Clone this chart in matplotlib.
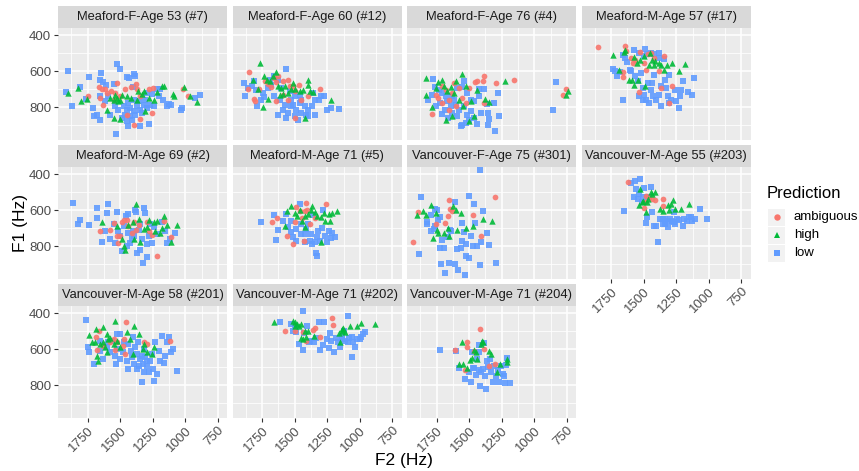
import matplotlib
matplotlib.use("Agg")
import matplotlib.pyplot as plt
from matplotlib.patches import Rectangle

plt.rcParams['font.family'] = ['Liberation Sans', 'DejaVu Sans']

# (F2, F1) pairs in Hz
p01_ambiguous = [(1745, 739), (1660, 689), (1655, 748), (1642, 700), (1616, 696), (1603, 720), (1570, 711),
                 (1539, 720), (1521, 665), (1551, 757), (1500, 739), (1461, 700), (1420, 689), (1379, 672),
                 (1368, 696), (1345, 739), (1281, 696), (1248, 692), (1255, 832), (1345, 865), (1392, 898),
                 (1449, 841), (1016, 696), (980, 739), (1629, 785)]
p01_high = [(1900, 720), (1827, 692), (1804, 767), (1757, 755), (1601, 813), (1549, 859), (1500, 863),
            (1577, 748), (1551, 757), (1526, 748), (1500, 757), (1539, 730), (1487, 730), (1449, 739),
            (1413, 748), (1374, 757), (1320, 707), (1281, 750), (1242, 757), (1216, 716), (1178, 680),
            (1165, 680), (1093, 726), (1088, 739), (1010, 687), (964, 739), (907, 772), (1361, 707),
            (1332, 726), (1513, 767), (1307, 822)]
p01_low = [(1897, 596), (1915, 713), (1866, 791), (1809, 689), (1737, 633), (1763, 752), (1706, 804),
           (1680, 841), (1698, 850), (1655, 869), (1655, 650), (1647, 609), (1629, 661), (1608, 674),
           (1655, 737), (1616, 767), (1590, 737), (1577, 841), (1551, 669), (1521, 557), (1505, 585),
           (1531, 948), (1436, 906), (1449, 631), (1431, 637), (1395, 613), (1387, 628), (1402, 687),
           (1345, 906), (1281, 891), (1294, 720), (1255, 729), (1216, 700), (1196, 696), (1203, 739),
           (1170, 761), (1139, 791), (1113, 785), (1036, 813), (1023, 804), (929, 748), (889, 730),
           (1126, 780), (1474, 794), (1449, 813), (1423, 804), (1397, 822), (1371, 794), (1345, 813),
           (1320, 785), (1294, 804), (1461, 841), (1423, 850), (1384, 841), (1410, 869), (1449, 878),
           (1487, 859), (1358, 767), (1332, 832), (1513, 813), (1539, 794), (1268, 785), (1242, 794),
           (1307, 757), (1397, 757), (1436, 776)]

p02_ambiguous = [(1853, 604), (1856, 698), (1814, 752), (1804, 767), (1771, 698), (1727, 652), (1706, 670),
                 (1680, 687), (1660, 635), (1642, 659), (1629, 628), (1590, 656), (1552, 650), (1539, 683),
                 (1513, 683), (1495, 711), (1469, 674), (1397, 739), (1307, 700), (1642, 767), (1552, 757),
                 (1449, 757), (1590, 730), (1495, 859)]
p02_high = [(1763, 554), (1822, 646), (1784, 698), (1737, 624), (1709, 646), (1693, 656), (1667, 628),
            (1642, 604), (1629, 683), (1603, 693), (1590, 726), (1572, 683), (1552, 720), (1531, 698),
            (1513, 665), (1495, 698), (1461, 711), (1436, 706), (1397, 646), (1397, 674), (1384, 711),
            (1358, 716), (1222, 761), (1745, 798), (1701, 752), (1423, 859), (1616, 730)]
p02_low = [(1892, 665), (1856, 693), (1881, 735), (1830, 680), (1814, 656), (1796, 706), (1789, 791),
           (1758, 757), (1745, 720), (1732, 743), (1706, 693), (1693, 646), (1680, 674), (1655, 628),
           (1629, 646), (1564, 587), (1655, 739), (1616, 757), (1624, 841), (1590, 813), (1572, 785),
           (1552, 832), (1526, 794), (1500, 850), (1487, 813), (1461, 776), (1449, 832), (1423, 794),
           (1410, 841), (1397, 813), (1366, 794), (1345, 757), (1314, 757), (1294, 739), (1273, 735),
           (1255, 813), (1222, 804), (1160, 807), (1449, 757), (1526, 757), (1495, 739), (1564, 859),
           (1474, 869), (1397, 850), (1345, 841), (1539, 711), (1461, 730), (1513, 785), (1358, 720),
           (1603, 693)]

p03_ambiguous = [(1784, 835), (1758, 730), (1737, 748), (1706, 683), (1680, 706), (1655, 757), (1629, 720),
                 (1616, 665), (1577, 693), (1552, 748), (1526, 776), (1500, 693), (1454, 657), (1436, 652),
                 (1392, 656), (1384, 628), (1384, 776), (1294, 665), (1157, 650), (778, 730), (758, 698),
                 (1655, 813), (1603, 794), (1706, 776)]
p03_high = [(1830, 637), (1830, 733), (1784, 798), (1753, 693), (1737, 661), (1709, 646), (1693, 683),
            (1680, 872), (1667, 711), (1642, 687), (1629, 850), (1616, 720), (1598, 656), (1557, 615),
            (1546, 794), (1526, 683), (1500, 878), (1487, 767), (1461, 850), (1443, 706), (1376, 754),
            (1350, 772), (1222, 656), (740, 711), (753, 730), (1577, 757)]
p03_low = [(1776, 643), (1814, 757), (1784, 730), (1763, 687), (1753, 794), (1722, 776), (1709, 835),
           (1683, 813), (1660, 859), (1629, 832), (1616, 757), (1603, 785), (1564, 906), (1552, 896),
           (1526, 887), (1500, 869), (1487, 822), (1461, 859), (1436, 891), (1539, 656), (1552, 687),
           (1513, 720), (1487, 757), (1461, 767), (1423, 739), (1428, 698), (1384, 700), (1366, 780),
           (1358, 832), (1345, 865), (1358, 896), (1307, 776), (1281, 720), (1273, 850), (1299, 933),
           (835, 661), (856, 817), (1732, 702), (1680, 739), (1642, 794), (1590, 850), (1577, 813),
           (1539, 794), (1513, 841), (1629, 739), (1667, 767), (1706, 720), (1410, 832), (1590, 693)]

p04_ambiguous = [(1848, 465), (1655, 606), (1655, 632), (1642, 461), (1634, 489), (1598, 526), (1582, 554),
                 (1564, 539), (1526, 495), (1500, 554), (1482, 591), (1443, 498), (1423, 526), (1384, 600),
                 (1366, 693), (1345, 513), (1281, 683), (1539, 717), (1307, 776), (1469, 506)]
p04_high = [(1737, 507), (1693, 591), (1650, 494), (1640, 480), (1609, 650), (1590, 650), (1572, 674),
            (1546, 650), (1577, 519), (1552, 554), (1526, 537), (1500, 515), (1487, 680), (1449, 500),
            (1436, 539), (1423, 563), (1410, 544), (1384, 554), (1366, 563), (1345, 594), (1320, 563),
            (1281, 554), (1230, 600), (1180, 559), (1461, 563)]
p04_low = [(1737, 587), (1719, 600), (1701, 628), (1680, 606), (1655, 507), (1642, 526), (1629, 550),
           (1603, 591), (1577, 480), (1539, 498), (1487, 474), (1500, 517), (1474, 506), (1443, 498),
           (1417, 506), (1386, 500), (1379, 526), (1345, 532), (1660, 757), (1595, 600), (1570, 628),
           (1546, 656), (1521, 609), (1508, 693), (1495, 730), (1482, 757), (1469, 665), (1443, 702),
           (1430, 739), (1417, 619), (1405, 757), (1379, 730), (1366, 683), (1340, 646), (1327, 693),
           (1314, 739), (1302, 619), (1289, 757), (1263, 702), (1250, 767), (1230, 804), (1211, 702),
           (1198, 656), (1160, 716), (1126, 730), (1116, 637), (1224, 739), (1508, 757), (1456, 776),
           (1366, 794), (1302, 776), (1436, 665), (1533, 739)]

p05_ambiguous = [(1655, 717), (1577, 709), (1546, 672), (1526, 741), (1513, 781), (1487, 666), (1469, 654),
                 (1449, 654), (1436, 690), (1397, 666), (1376, 709), (1358, 684), (1294, 666), (1281, 717),
                 (1255, 735), (1216, 854), (1165, 657), (1113, 751), (1500, 744), (1410, 726)]
p05_high = [(1642, 666), (1526, 690), (1487, 762), (1469, 798), (1461, 820), (1402, 666), (1376, 563),
            (1358, 647), (1350, 779), (1320, 704), (1294, 695), (1276, 653), (1242, 666), (1229, 717),
            (1216, 661), (1198, 728), (1178, 698), (1160, 634), (1139, 680), (1108, 779), (1062, 680),
            (1397, 762), (1436, 684)]
p05_low = [(1861, 562), (1822, 678), (1809, 654), (1737, 684), (1680, 590), (1675, 642), (1642, 777),
           (1598, 616), (1590, 563), (1616, 713), (1577, 760), (1526, 608), (1551, 676), (1539, 781),
           (1500, 744), (1487, 828), (1454, 631), (1443, 622), (1449, 800), (1410, 762), (1402, 716),
           (1384, 598), (1376, 612), (1371, 838), (1345, 819), (1325, 891), (1314, 585), (1307, 616),
           (1294, 857), (1281, 744), (1255, 781), (1242, 694), (1216, 733), (1178, 667), (1152, 714),
           (1139, 781), (1119, 762), (1082, 729), (1436, 726), (1397, 744), (1358, 707), (1332, 762),
           (1423, 781), (1294, 790), (1268, 676), (1474, 688), (1513, 716), (1345, 676)]

p06_ambiguous = [(1675, 666), (1634, 642), (1557, 741), (1513, 788), (1487, 584), (1461, 603), (1443, 642),
                 (1423, 604), (1410, 559), (1402, 600), (1428, 768), (1384, 676), (1345, 642), (1263, 567),
                 (1500, 666)]
p06_high = [(1577, 690), (1557, 604), (1531, 574), (1500, 615), (1482, 634), (1461, 600), (1443, 657),
            (1417, 634), (1397, 623), (1376, 600), (1366, 578), (1345, 610), (1325, 634), (1294, 638),
            (1273, 616), (1268, 661), (1237, 623), (1230, 657), (1211, 616), (1178, 604), (1294, 779),
            (1423, 694)]
p06_low = [(1758, 665), (1660, 627), (1629, 710), (1642, 766), (1590, 657), (1564, 623), (1552, 694),
           (1526, 722), (1513, 750), (1487, 768), (1461, 565), (1454, 731), (1423, 775), (1410, 704),
           (1384, 768), (1366, 790), (1358, 629), (1340, 838), (1332, 853), (1332, 750), (1307, 768),
           (1289, 697), (1281, 597), (1268, 741), (1255, 779), (1237, 713), (1222, 754), (1211, 728),
           (1191, 750), (1526, 657), (1449, 676), (1397, 676), (1371, 731), (1320, 713), (1423, 731),
           (1345, 779), (1487, 704)]

p07_ambiguous = [(1933, 777), (1892, 610), (1758, 676), (1688, 672), (1660, 634), (1655, 541), (1650, 591),
                 (1634, 604), (1469, 625), (1410, 741), (1299, 529)]
p07_high = [(1899, 625), (1853, 606), (1830, 629), (1796, 573), (1776, 756), (1753, 615), (1745, 709),
            (1737, 728), (1693, 728), (1660, 698), (1655, 741), (1622, 578), (1603, 597), (1590, 709),
            (1564, 615), (1526, 698), (1474, 690), (1392, 647), (1325, 661)]
p07_low = [(1866, 525), (1887, 844), (1827, 666), (1822, 679), (1796, 629), (1789, 717), (1771, 704),
           (1763, 591), (1745, 600), (1737, 653), (1727, 638), (1709, 766), (1693, 807), (1727, 811),
           (1719, 896), (1688, 947), (1660, 751), (1655, 893), (1650, 709), (1637, 713), (1611, 554),
           (1606, 900), (1590, 816), (1585, 934), (1564, 811), (1552, 769), (1552, 672), (1539, 722),
           (1534, 961), (1526, 788), (1526, 853), (1500, 521), (1500, 863), (1487, 741), (1474, 800),
           (1461, 563), (1454, 668), (1443, 800), (1415, 379), (1415, 904), (1410, 779), (1392, 604),
           (1366, 728), (1350, 792), (1294, 891), (1761, 685)]

p08_ambiguous = [(1620, 443), (1495, 585), (1485, 522), (1456, 525), (1433, 535), (1412, 541), (1355, 537),
                 (1355, 574), (1490, 553)]
p08_high = [(1529, 484), (1537, 571), (1516, 556), (1503, 547), (1480, 610), (1477, 553), (1464, 535),
            (1443, 497), (1433, 509), (1412, 501), (1373, 592), (1355, 604), (1314, 569), (1305, 600),
            (1290, 563), (1277, 541), (1257, 595), (1210, 595), (1149, 563)]
p08_low = [(1651, 603), (1599, 447), (1563, 439), (1529, 424), (1573, 528), (1547, 537), (1555, 481),
           (1537, 509), (1516, 556), (1503, 529), (1495, 478), (1485, 672), (1477, 638), (1459, 525),
           (1443, 469), (1433, 610), (1423, 689), (1405, 687), (1392, 779), (1373, 649), (1355, 679),
           (1355, 651), (1334, 651), (1314, 694), (1295, 649), (1282, 658), (1269, 610), (1257, 676),
           (1243, 649), (1230, 653), (1199, 689), (1191, 649), (1165, 657), (1140, 638), (1128, 661),
           (1106, 647), (1070, 593), (1015, 649), (1308, 660), (1269, 664), (1152, 636), (1334, 676)]

p09_ambiguous = [(1686, 530), (1680, 604), (1660, 496), (1629, 583), (1577, 561), (1546, 543), (1539, 604),
                 (1526, 561), (1479, 583), (1474, 543), (1461, 626), (1454, 450), (1119, 555), (1294, 570),
                 (1320, 561)]
p09_high = [(1737, 520), (1719, 561), (1693, 557), (1686, 487), (1680, 635), (1668, 663), (1655, 570),
            (1634, 478), (1629, 561), (1616, 589), (1603, 515), (1603, 613), (1590, 543), (1577, 539),
            (1551, 570), (1539, 441), (1521, 552), (1500, 589), (1446, 506), (1423, 543), (1402, 626),
            (1392, 472), (1353, 515), (1325, 598), (1315, 570), (1294, 617), (1255, 626), (1237, 589)]
p09_low = [(1763, 437), (1745, 589), (1737, 617), (1701, 681), (1655, 607), (1629, 654), (1603, 589),
           (1590, 561), (1564, 552), (1539, 635), (1531, 681), (1521, 515), (1505, 654), (1500, 515),
           (1479, 617), (1469, 561), (1449, 663), (1436, 709), (1418, 607), (1402, 533), (1384, 589),
           (1371, 709), (1366, 561), (1345, 654), (1332, 783), (1325, 681), (1320, 598), (1307, 644),
           (1294, 694), (1281, 728), (1268, 663), (1255, 626), (1247, 709), (1237, 774), (1229, 557),
           (1216, 737), (1203, 607), (1191, 663), (1178, 524), (1165, 676), (1152, 635), (1139, 557),
           (1126, 533), (1108, 617), (1093, 600), (1067, 722), (1436, 570), (1371, 626), (1332, 635),
           (1397, 681), (1294, 663), (1358, 691), (1410, 644), (1320, 728), (1526, 598), (1577, 617),
           (1655, 552)]

p10_ambiguous = [(1577, 500), (1500, 496), (1436, 502), (1410, 552), (1358, 491), (1345, 483), (1307, 533),
                 (1211, 424), (1204, 463)]
p10_high = [(1660, 450), (1513, 441), (1500, 469), (1498, 450), (1480, 459), (1469, 472), (1449, 459),
            (1449, 539), (1436, 543), (1423, 496), (1410, 530), (1397, 496), (1350, 528), (1160, 509),
            (1139, 487), (1134, 500), (1126, 483), (1113, 506), (1075, 472), (1023, 472), (990, 454),
            (882, 459), (1152, 561)]
p10_low = [(1616, 450), (1526, 459), (1513, 496), (1500, 472), (1487, 502), (1469, 570), (1436, 602),
           (1436, 385), (1430, 509), (1405, 472), (1392, 561), (1379, 552), (1353, 561), (1340, 539),
           (1314, 450), (1307, 602), (1283, 576), (1273, 450), (1255, 541), (1234, 594), (1229, 511),
           (1224, 552), (1198, 617), (1180, 539), (1167, 561), (1149, 589), (1134, 533), (1124, 496),
           (1093, 417), (1088, 557), (1083, 539), (1062, 533), (1057, 644), (1036, 589), (1023, 543),
           (998, 543), (990, 533), (972, 515), (959, 504), (1139, 543), (1113, 552), (1049, 561)]

p11_ambiguous = [(1608, 602), (1531, 717), (1513, 557), (1513, 585), (1461, 609), (1415, 485), (1389, 600),
                 (1350, 691), (1304, 680)]
p11_high = [(1577, 683), (1557, 557), (1546, 683), (1513, 702), (1495, 657), (1479, 650), (1461, 604),
            (1449, 617), (1443, 654), (1408, 570), (1405, 552), (1392, 561), (1350, 609), (1335, 628),
            (1286, 724), (1263, 680), (1209, 654), (1209, 669)]
p11_low = [(1727, 604), (1598, 607), (1577, 706), (1531, 765), (1500, 728), (1487, 780), (1479, 613),
           (1469, 704), (1449, 741), (1436, 654), (1428, 617), (1423, 576), (1418, 802), (1410, 728),
           (1397, 709), (1384, 563), (1376, 750), (1371, 820), (1366, 663), (1358, 700), (1340, 654),
           (1332, 728), (1320, 783), (1307, 694), (1294, 750), (1281, 717), (1273, 783), (1255, 691),
           (1242, 739), (1229, 746), (1222, 789), (1217, 687), (1211, 650), (1183, 789), (1428, 717),
           (1461, 704)]

titles = ["Meaford-F-Age 53 (#7)", "Meaford-F-Age 60 (#12)", "Meaford-F-Age 76 (#4)", "Meaford-M-Age 57 (#17)",
          "Meaford-M-Age 69 (#2)", "Meaford-M-Age 71 (#5)", "Vancouver-F-Age 75 (#301)",
          "Vancouver-M-Age 55 (#203)", "Vancouver-M-Age 58 (#201)", "Vancouver-M-Age 71 (#202)",
          "Vancouver-M-Age 71 (#204)"]
panel_data = [
    (p01_ambiguous, p01_high, p01_low), (p02_ambiguous, p02_high, p02_low),
    (p03_ambiguous, p03_high, p03_low), (p04_ambiguous, p04_high, p04_low),
    (p05_ambiguous, p05_high, p05_low), (p06_ambiguous, p06_high, p06_low),
    (p07_ambiguous, p07_high, p07_low), (p08_ambiguous, p08_high, p08_low),
    (p09_ambiguous, p09_high, p09_low), (p10_ambiguous, p10_high, p10_low),
    (p11_ambiguous, p11_high, p11_low),
]
categories = ["ambiguous", "high", "low"]
colors = {"ambiguous": "#F8766D", "high": "#00BA38", "low": "#619CFF"}
markers = {"ambiguous": "o", "high": "^", "low": "s"}
sizes = {"ambiguous": 17, "high": 21, "low": 15}

x_ticks = [1750, 1500, 1250, 1000, 750]
y_ticks = [400, 600, 800]

W, H = 859, 471
fig = plt.figure(figsize=(W / 100, H / 100), dpi=100)


def box(left, top, w, h):
    # pixel box -> figure fraction
    return [left / W, 1 - (top + h) / H, w / W, h / H]


tick_col = "#4D4D4D"
for i, (title, data) in enumerate(zip(titles, panel_data)):
    r, c = divmod(i, 4)
    left = 58 + c * 174.5
    strip_top = 6 + r * 139
    ax = fig.add_axes(box(left, strip_top + 21.5, 169, 112))
    ax.set_facecolor("#EBEBEB")
    for s in ax.spines.values():
        s.set_visible(False)
    ax.set_xlim(1977, 680)
    ax.set_ylim(979, 357)
    ax.set_xticks(x_ticks)
    ax.set_xticks([1875, 1625, 1375, 1125, 875], minor=True)
    ax.set_yticks(y_ticks)
    ax.set_yticks([500, 700, 900], minor=True)
    ax.grid(which="major", color="white", linewidth=1.1)
    ax.grid(which="minor", color="white", linewidth=0.55)
    ax.set_axisbelow(True)
    ax.tick_params(which="minor", length=0)

    show_x = (r == 2) or (r == 1 and c == 3)
    show_y = (c == 0)
    ax.tick_params(axis="x", which="major", length=3 if show_x else 0, color="#333333", width=0.8,
                   labelbottom=show_x, labelsize=9.5, labelcolor=tick_col, pad=2)
    ax.tick_params(axis="y", which="major", length=3 if show_y else 0, color="#333333", width=0.8,
                   labelleft=show_y, labelsize=9.5, labelcolor=tick_col, pad=2)
    if show_x:
        for lab in ax.get_xticklabels():
            lab.set_rotation(45)
            lab.set_ha("right")
            lab.set_va("top")
            lab.set_rotation_mode("anchor")

    for name, pts in zip(["low", "ambiguous", "high"], [data[2], data[0], data[1]]):
        xs = [p[0] for p in pts]
        ys = [p[1] for p in pts]
        ax.scatter(xs, ys, s=sizes[name], marker=markers[name], color=colors[name],
                   linewidths=0, alpha=0.9, zorder=3)

    sax = fig.add_axes(box(left, strip_top, 169, 21.5))
    sax.set_facecolor("#D9D9D9")
    sax.set_xticks([])
    sax.set_yticks([])
    for s in sax.spines.values():
        s.set_visible(False)
    sax.text(0.5, 0.47, title, ha="center", va="center", fontsize=9.3, color="#1A1A1A",
             transform=sax.transAxes)

fig.text(404 / W, 1 - 461 / H, "F2 (Hz)", ha="center", va="center", fontsize=12.5, color="black")
fig.text(20 / W, 1 - 223 / H, "F1 (Hz)", ha="center", va="center", fontsize=12.5, rotation=90,
         color="black")

# legend
fig.text(767 / W, 1 - 193 / H, "Prediction", ha="left", va="center", fontsize=12, color="black")
for k, name in enumerate(categories):
    yc = 217 + k * 18
    fig.patches.append(Rectangle(((768) / W, 1 - (yc + 8.5) / H), 17 / W, 17 / H,
                                 transform=fig.transFigure, facecolor="#F2F2F2", edgecolor="none"))
    fig.lines.append(plt.Line2D([776.5 / W], [1 - yc / H], transform=fig.transFigure,
                                marker=markers[name], color=colors[name], markersize=4.6,
                                markeredgewidth=0, linestyle="none"))
    fig.text(794 / W, 1 - yc / H, name, ha="left", va="center", fontsize=9.5, color="black")

fig.savefig("out.png", dpi=100, facecolor="white")
